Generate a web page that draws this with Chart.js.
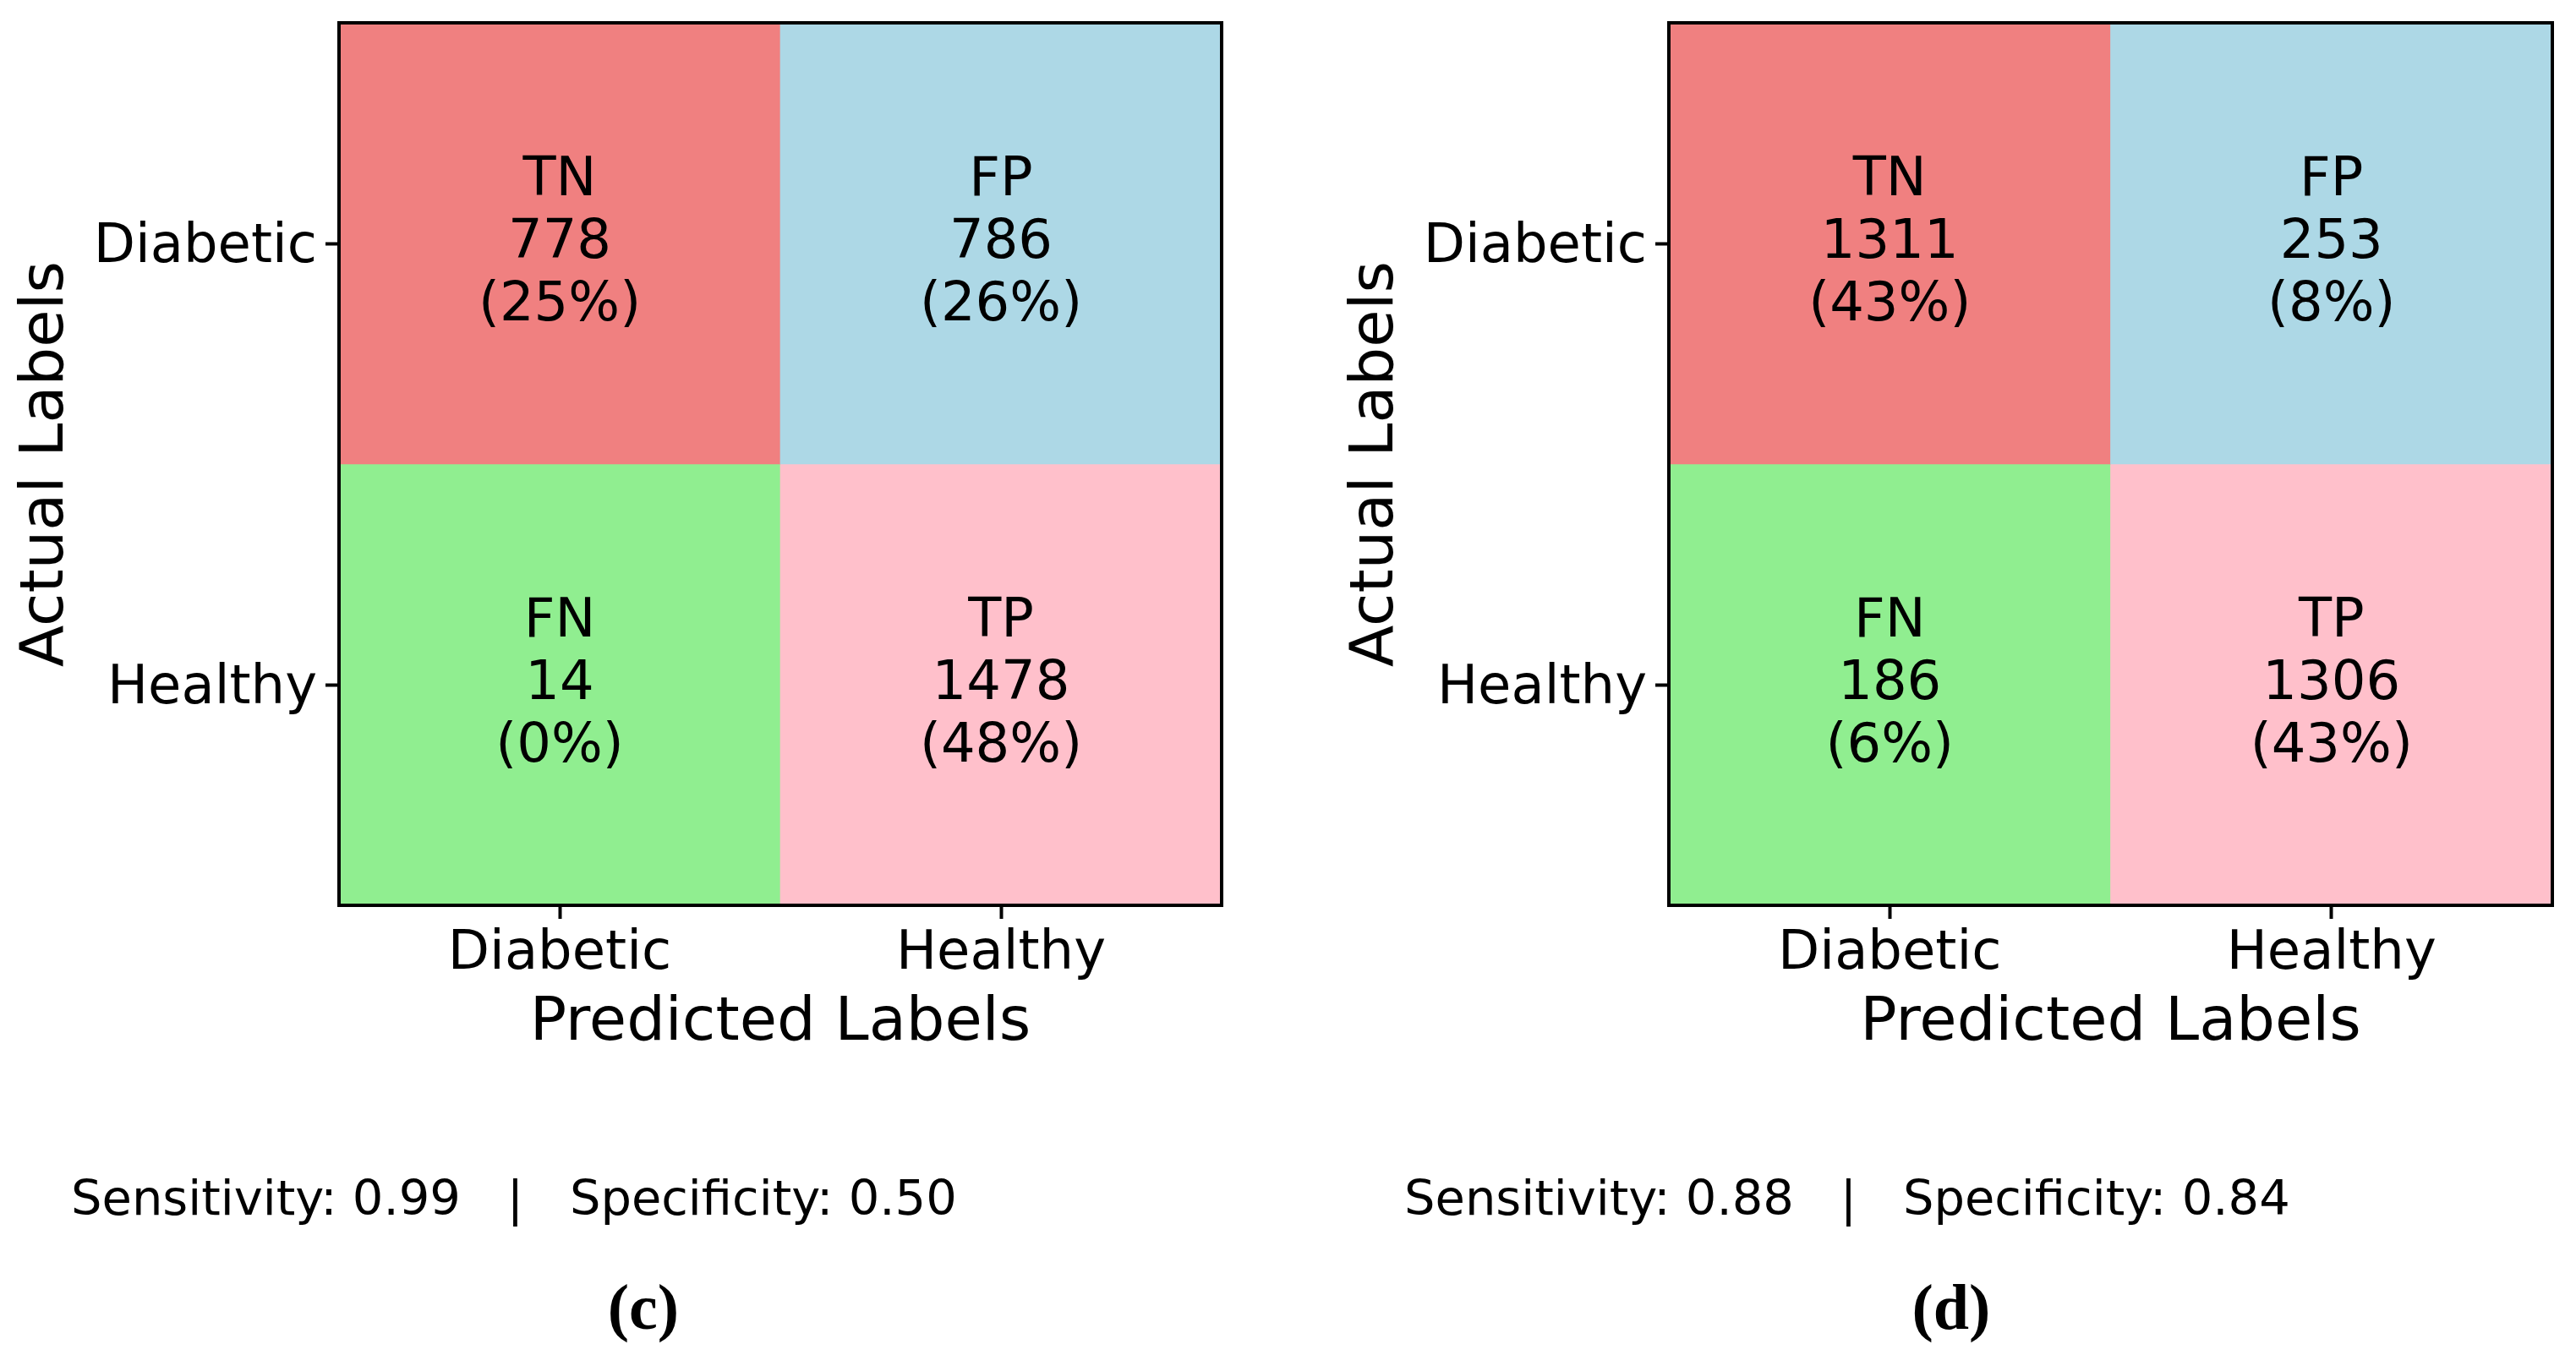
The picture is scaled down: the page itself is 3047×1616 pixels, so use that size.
<!DOCTYPE html>
<html>
<head>
<meta charset="utf-8">
<script src="https://cdn.jsdelivr.net/npm/chart.js@4.4.1/dist/chart.umd.min.js"></script>
<style>
  html, body { margin: 0; padding: 0; background: #fff; overflow: hidden; }
  body { width: 3047px; height: 1616px; position: relative; }
  canvas { position: absolute; top: 0; }
  #chartC { left: 0; }
  #chartD { left: 1573px; }
  .metrics {
    position: absolute;
    font-family: "DejaVu Sans", sans-serif;
    font-size: 57.5px;
    line-height: 1;
    white-space: pre;
    color: #000;
  }
  .panel {
    position: absolute;
    width: 200px;
    text-align: center;
    font-family: "Liberation Serif", serif;
    font-weight: bold;
    font-size: 76px;
    line-height: 1;
    color: #000;
  }
</style>
</head>
<body>
<canvas id="chartC" width="1500" height="1254"></canvas>
<canvas id="chartD" width="1474" height="1254"></canvas>
<div class="metrics" id="metricsC" style="left:84px; top:1389px;"></div>
<div class="metrics" id="metricsD" style="left:1661px; top:1389px;"></div>
<div class="panel" id="panelC" style="left:661px; top:1508px;"></div>
<div class="panel" id="panelD" style="left:2208px; top:1508px;"></div>

<script>
const predictedLabels = ["Diabetic", "Healthy"];
const actualLabels = ["Diabetic", "Healthy"];
const cellTags = [["TN", "FP"], ["FN", "TP"]];

const countsC = [[778, 786], [14, 1478]];
const percentC = [[25, 26], [0, 48]];
const countsD = [[1311, 253], [186, 1306]];
const percentD = [[43, 8], [6, 43]];

const sensitivityValues = ["0.99", "0.88"];
const specificityValues = ["0.50", "0.84"];
const panelLetters = ["(c)", "(d)"];

const cellColors = [["#f08080", "#add8e6"], ["#90ee90", "#ffc0cb"]];

Chart.defaults.font.family = "'DejaVu Sans', sans-serif";
Chart.defaults.color = "#000";

const boxBorder = {
  id: "boxBorder",
  afterDraw(chart) {
    const {ctx, chartArea} = chart;
    ctx.save();
    ctx.strokeStyle = "#000";
    ctx.lineWidth = 4;
    ctx.strokeRect(chartArea.left, chartArea.top,
      chartArea.right - chartArea.left, chartArea.bottom - chartArea.top);
    ctx.restore();
  }
};

const cellText = {
  id: "cellText",
  afterDatasetsDraw(chart) {
    const ctx = chart.ctx;
    ctx.save();
    ctx.font = "64px 'DejaVu Sans'";
    ctx.fillStyle = "#000";
    ctx.textAlign = "center";
    ctx.textBaseline = "middle";
    chart.data.datasets.forEach((ds, r) => {
      chart.getDatasetMeta(r).data.forEach((bar, c) => {
        const cx = bar.x;
        const cy = (bar.y + bar.base) / 2;
        const lines = [ds.tags[c], String(ds.counts[c]), "(" + ds.percents[c] + "%)"];
        lines.forEach((txt, i) => {
          ctx.fillText(txt, cx, cy + (i - 1) * 74);
        });
      });
    });
    ctx.restore();
  }
};

function noEdgePadding(scale) {
  scale.paddingTop = 0;
  scale.paddingBottom = 0;
  scale.paddingLeft = 0;
  scale.paddingRight = 0;
}

function makePanel(canvasId, counts, percents, rightPad) {
  const datasets = actualLabels.map((rowLabel, r) => ({
    label: rowLabel,
    data: predictedLabels.map(() => [r - 0.5, r + 0.5]),
    backgroundColor: cellColors[r],
    borderWidth: 0,
    grouped: false,
    barPercentage: 1,
    categoryPercentage: 1,
    tags: cellTags[r],
    counts: counts[r],
    percents: percents[r]
  }));

  return new Chart(document.getElementById(canvasId), {
    type: "bar",
    data: {
      labels: predictedLabels,
      datasets: datasets
    },
    options: {
      responsive: false,
      animation: false,
      devicePixelRatio: 1,
      layout: {
        padding: { top: 27, left: 0, right: rightPad, bottom: 0 }
      },
      plugins: {
        legend: { display: false },
        tooltip: { enabled: false }
      },
      scales: {
        x: {
          type: "category",
          offset: true,
          border: { display: false },
          grid: {
            offset: false,
            drawOnChartArea: false,
            drawTicks: true,
            tickLength: 16,
            tickWidth: 4,
            tickColor: "#000"
          },
          ticks: {
            padding: 4,
            font: { size: 64 },
            color: "#000"
          },
          title: {
            display: true,
            text: "Predicted Labels",
            font: { size: 72 },
            color: "#000",
            padding: { top: 0, bottom: 0 }
          },
          afterFit(scale) {
            scale.height = 183;
            noEdgePadding(scale);
          }
        },
        y: {
          type: "linear",
          min: -0.5,
          max: 1.5,
          reverse: true,
          border: { display: false },
          grid: {
            drawOnChartArea: false,
            drawTicks: true,
            tickLength: 16,
            tickWidth: 4,
            tickColor: "#000"
          },
          afterBuildTicks(scale) {
            scale.ticks = actualLabels.map((_, i) => ({ value: i }));
          },
          ticks: {
            padding: 10,
            labelOffset: 5,
            font: { size: 64 },
            color: "#000",
            callback: (value) => actualLabels[value]
          },
          title: {
            display: true,
            text: "Actual Labels",
            font: { size: 72 },
            color: "#000",
            padding: { top: 12, bottom: 0 }
          },
          afterFit(scale) {
            scale.width = 401;
            noEdgePadding(scale);
          }
        }
      }
    },
    plugins: [boxBorder, cellText]
  });
}

makePanel("chartC", countsC, percentC, 55);
makePanel("chartD", countsD, percentD, 28);

document.getElementById("metricsC").textContent =
  "Sensitivity: " + sensitivityValues[0] + "   |   Specificity: " + specificityValues[0];
document.getElementById("metricsD").textContent =
  "Sensitivity: " + sensitivityValues[1] + "   |   Specificity: " + specificityValues[1];
document.getElementById("panelC").textContent = panelLetters[0];
document.getElementById("panelD").textContent = panelLetters[1];
</script>
</body>
</html>
